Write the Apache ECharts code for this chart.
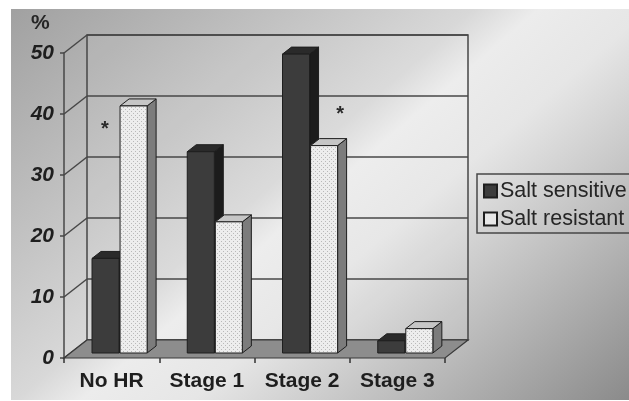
<!DOCTYPE html>
<html>
<head>
<meta charset="utf-8">
<script src="https://cdn.jsdelivr.net/npm/echarts@6/dist/echarts.min.js"></script>
<style>
  html, body { margin: 0; padding: 0; background: #fff; }
  #chart { width: 629px; height: 401px; }
</style>
</head>
<body>
<div id="chart"></div>
<script>
const categories = ['No HR', 'Stage 1', 'Stage 2', 'Stage 3']
const saltSensitive = [15.5, 33, 49, 2]
const saltResistant = [40.5, 21.5, 34, 4]
const yTicks = [0, 10, 20, 30, 40, 50]
// asterisks: [category index, value]
const stars = [[0, 37.5], [2, 40]]

const FONT = 'Liberation Sans, Arial, sans-serif'
const DX = 23, DY = -18        // wall depth
const BDX = 9, BDY = -7        // bar depth
const SHIFT_X = 0, SHIFT_Y = -5

// dotted fill for the light bars
const dots = document.createElement('canvas')
dots.width = 4; dots.height = 4
const dctx = dots.getContext('2d')
dctx.fillStyle = '#ededed'; dctx.fillRect(0, 0, 4, 4)
dctx.fillStyle = '#b9b9b9'; dctx.fillRect(1, 1, 1, 1); dctx.fillRect(3, 3, 1, 1)

const faces = [
  { front: '#3c3c3c', top: '#2a2a2a', side: '#1c1c1c' },
  { front: { image: dots, repeat: 'repeat' }, top: '#c6c6c6', side: '#7c7c7c' },
]

function barItem(si) {
  return function (params, api) {
    const ci = api.value(0)
    const band = api.size([1, 0])[0]
    const c = api.coord([ci, 0])
    const t = api.coord([ci, api.value(1)])
    const w = band * 0.284
    const x = c[0] - band * 0.206 + si * (w + 1) + SHIFT_X
    const by = c[1] + SHIFT_Y
    const ty = t[1] + SHIFT_Y
    const f = faces[si]
    const stroke = { stroke: '#1e1e1e', lineWidth: 1 }
    return {
      type: 'group',
      children: [
        { type: 'polygon', shape: { points: [[x + w, ty], [x + w + BDX, ty + BDY], [x + w + BDX, by + BDY], [x + w, by]] }, style: Object.assign({ fill: f.side }, stroke) },
        { type: 'polygon', shape: { points: [[x, ty], [x + w, ty], [x + w + BDX, ty + BDY], [x + BDX, ty + BDY]] }, style: Object.assign({ fill: f.top }, stroke) },
        { type: 'rect', shape: { x: x, y: ty, width: w, height: by - ty }, style: Object.assign({ fill: f.front }, stroke) },
      ],
    }
  }
}

function frameItem(params, api) {
  const cs = params.coordSys
  const x0 = cs.x, x1 = cs.x + cs.width
  const yTop = api.coord([0, yTicks[yTicks.length - 1]])[1]
  const yBot = api.coord([0, 0])[1]
  const line = { stroke: '#474747', lineWidth: 1.5 }
  const children = [
    { type: 'rect', shape: { x: x0 + DX, y: yTop + DY, width: cs.width, height: yBot - yTop }, style: { fill: 'rgba(255,255,255,0.05)', stroke: '#474747', lineWidth: 1.5 } },
  ]
  yTicks.forEach(v => {
    const y = api.coord([0, v])[1]
    children.push({ type: 'line', shape: { x1: x0 + DX, y1: y + DY, x2: x1 + DX, y2: y + DY }, style: line })
    children.push({ type: 'line', shape: { x1: x0, y1: y, x2: x0 + DX, y2: y + DY }, style: line })
  })
  children.push({
    type: 'polygon',
    shape: { points: [[x0, yBot], [x1, yBot], [x1 + DX, yBot + DY], [x0 + DX, yBot + DY]] },
    style: { fill: '#8d8d8d', stroke: '#3a3a3a', lineWidth: 1.2 },
  })
  return { type: 'group', children }
}

function starItem(params, api) {
  const band = api.size([1, 0])[0]
  const p = api.coord([api.value(0), api.value(1)])
  const dx = api.value(0) === 0 ? -band * 0.07 : band * 0.4
  return { type: 'text', x: p[0] + dx, y: p[1], style: { text: '*', font: 'bold 20px ' + FONT, fill: '#2a2a2a', align: 'center', verticalAlign: 'middle' } }
}

const chart = echarts.init(document.getElementById('chart'), null, { renderer: 'canvas' })
chart.setOption({
  animation: false,
  backgroundColor: '#ffffff',
  graphic: [
    {
      type: 'rect', z: -10, silent: true,
      shape: { x: 11, y: 9, width: 618, height: 391 },
      style: {
        fill: new echarts.graphic.LinearGradient(0, 0, 464, 543, [
          { offset: 0, color: '#9e9e9e' },
          { offset: 0.28, color: '#c3c3c3' },
          { offset: 0.44, color: '#d8d8d8' },
          { offset: 0.5, color: '#ececec' },
          { offset: 0.6, color: '#e6e6e6' },
          { offset: 0.78, color: '#bdbdbd' },
          { offset: 1, color: '#8a8a8a' },
        ], true),
      },
    },
    // legend frame, running off the right edge as in the original
    { type: 'rect', z: 10, silent: true, shape: { x: 477, y: 174, width: 200, height: 59 }, style: { fill: 'none', stroke: '#474747', lineWidth: 1.5 } },
    { type: 'text', left: 31, top: 13, style: { text: '%', font: 'bold 21px ' + FONT, fill: '#262626' } },
  ],
  legend: {
    orient: 'vertical',
    left: 477, top: 174,
    padding: [6, 6, 5, 6],
    itemGap: 6,
    itemWidth: 13, itemHeight: 13,
    icon: 'rect',
    borderWidth: 0,
    textStyle: { fontFamily: FONT, fontSize: 21.5, color: '#262626', padding: [0, 0, 0, -2] },
    data: ['Salt sensitive', 'Salt resistant'],
  },
  grid: { left: 64, top: 53, width: 381, height: 305 },
  xAxis: {
    type: 'category',
    data: categories,
    axisLine: { show: false },
    axisTick: { show: true, length: 5, lineStyle: { color: '#333', width: 1.5 } },
    axisLabel: { interval: 0, margin: 13, fontFamily: FONT, fontSize: 21, fontWeight: 'bold', color: '#1e1e1e' },
  },
  yAxis: {
    type: 'value', min: 0, max: 50, interval: 10,
    axisLine: { show: true, lineStyle: { color: '#474747', width: 1.5 } },
    axisTick: { show: true, length: 4, lineStyle: { color: '#474747', width: 1.5 } },
    axisLabel: { margin: 10, fontFamily: FONT, fontSize: 21, fontWeight: 'bold', fontStyle: 'italic', color: '#1e1e1e' },
    splitLine: { show: false },
  },
  series: [
    { type: 'custom', name: 'frame', z: 1, silent: true, renderItem: frameItem, data: [[0, 0]] },
    {
      type: 'custom', name: 'Salt sensitive', z: 3, renderItem: barItem(0),
      itemStyle: { color: '#3c3c3c', borderColor: '#1e1e1e', borderWidth: 1 },
      data: saltSensitive.map((v, i) => [i, v]),
    },
    {
      type: 'custom', name: 'Salt resistant', z: 4, renderItem: barItem(1),
      itemStyle: { color: '#e8e8e8', borderColor: '#1e1e1e', borderWidth: 1 },
      data: saltResistant.map((v, i) => [i, v]),
    },
    { type: 'custom', name: 'stars', z: 5, silent: true, renderItem: starItem, data: stars },
  ],
})
</script>
</body>
</html>
